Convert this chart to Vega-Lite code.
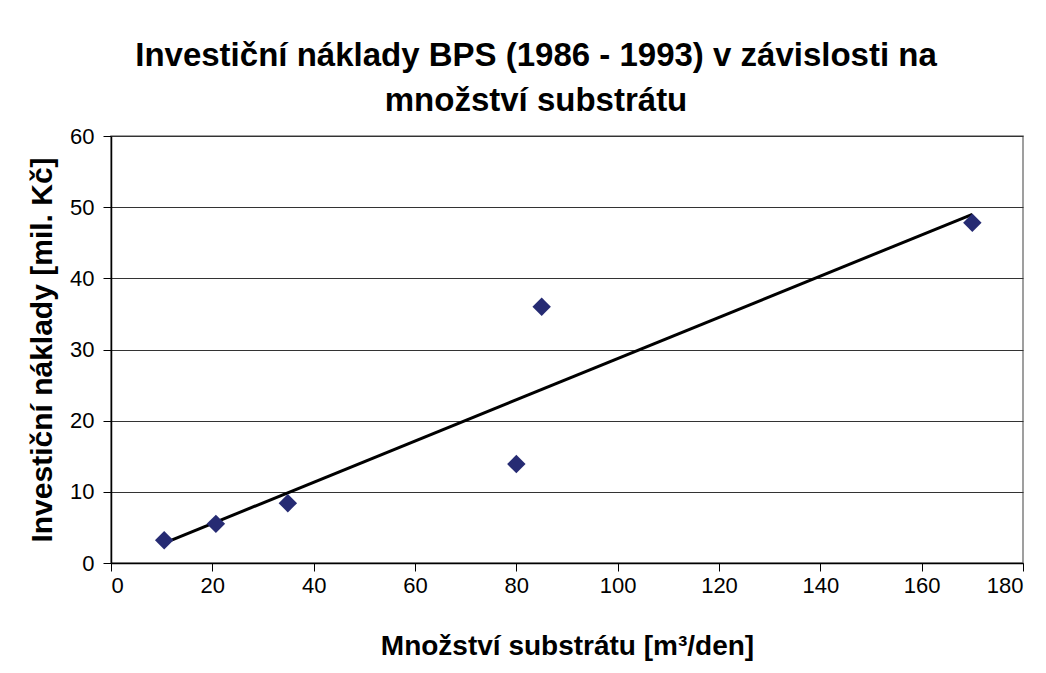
{
  "$schema": "https://vega.github.io/schema/vega-lite/v6.json",
  "autosize": {"type": "none"},
  "width": 912,
  "height": 427,
  "padding": {"left": 111, "top": 136, "right": 23, "bottom": 110},
  "background": "white",
  "title": {
    "text": ["Investiční náklady BPS (1986 - 1993) v závislosti na", "množství substrátu"],
    "font": "Liberation Sans",
    "fontSize": 33,
    "fontWeight": "bold",
    "color": "black",
    "anchor": "middle",
    "lineHeight": 45,
    "dx": -31,
    "offset": 7
  },
  "datasets": {
    "points": [
      {"x": 10.5, "y": 3.2},
      {"x": 20.7, "y": 5.5},
      {"x": 34.9, "y": 8.4},
      {"x": 80.0, "y": 13.9},
      {"x": 85.0, "y": 36.0},
      {"x": 170.0, "y": 47.8}
    ],
    "trend": [
      {"x": 10.5, "y": 2.8},
      {"x": 170.0, "y": 49.0}
    ]
  },
  "layer": [
    {
      "data": {"name": "trend"},
      "mark": {"type": "line", "color": "black", "strokeWidth": 3},
      "encoding": {
        "x": {"field": "x", "type": "quantitative"},
        "y": {"field": "y", "type": "quantitative"}
      }
    },
    {
      "data": {"name": "points"},
      "mark": {"type": "point", "shape": "diamond", "filled": true, "size": 340, "color": "#262b73", "opacity": 1},
      "encoding": {
        "x": {
          "field": "x", "type": "quantitative",
          "scale": {"domain": [0, 180], "nice": false, "zero": true},
          "axis": {
            "title": "Množství substrátu [m³/den]",
            "titleFontSize": 28,
            "values": [0, 20, 40, 60, 80, 100, 120, 140, 160, 180],
            "grid": false,
            "labelPadding": 4,
            "titlePadding": 36
          }
        },
        "y": {
          "field": "y", "type": "quantitative",
          "scale": {"domain": [0, 60], "nice": false},
          "axis": {
            "title": "Investiční náklady [mil. Kč]",
            "titleFontSize": 30,
            "values": [0, 10, 20, 30, 40, 50, 60],
            "grid": true,
            "labelPadding": 9,
            "titlePadding": 12
          }
        }
      }
    }
  ],
  "config": {
    "view": {"stroke": "#808080", "strokeWidth": 1.5},
    "axis": {
      "domainColor": "black",
      "domainWidth": 1.5,
      "tickColor": "black",
      "tickSize": 8,
      "tickWidth": 1,
      "gridColor": "#333333",
      "gridWidth": 1,
      "labelFont": "Liberation Sans",
      "labelFontSize": 22,
      "labelColor": "black",
      "titleFont": "Liberation Sans",
      "titleFontWeight": "bold",
      "titleColor": "black"
    }
  }
}
